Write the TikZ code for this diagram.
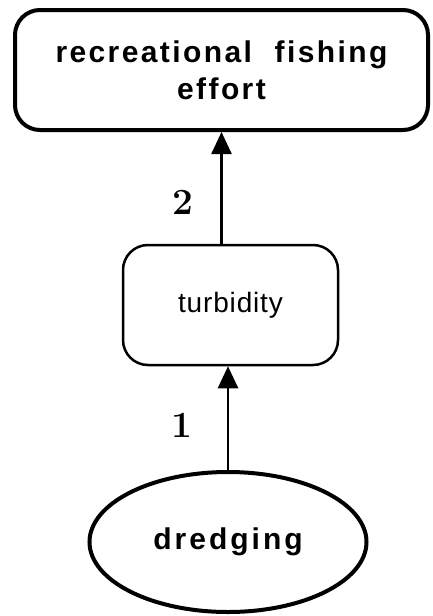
\documentclass[tikz,border=0pt]{standalone}
\usepackage{fontspec}
\usetikzlibrary{arrows.meta,shapes.geometric}
\newfontfamily\boxfont[LetterSpace=8]{Liberation Sans}
\newfontfamily\ovalfont[LetterSpace=10]{Liberation Sans}
\newfontfamily\plainfont[LetterSpace=3]{Liberation Sans}
\begin{document}
\begin{tikzpicture}[x=1pt,y=-1pt,
  bigbox/.style={draw,line width=4pt,rounded corners=25pt,inner sep=0pt,
    minimum width=413pt,minimum height=120pt,align=center,
    font=\boxfont\bfseries\fontsize{30}{37}\selectfont},
  smallbox/.style={draw,line width=2.5pt,rounded corners=25pt,inner sep=0pt,
    minimum width=215pt,minimum height=120pt,
    font=\plainfont\fontsize{28}{30}\selectfont},
  oval/.style={draw,ellipse,line width=4pt,inner sep=0pt,
    minimum width=277pt,minimum height=140pt,
    font=\ovalfont\bfseries\fontsize{30}{30}\selectfont},
  link/.style={line width=2.5pt,-{Triangle[width=20pt,length=22pt]}},
  num/.style={font=\bfseries\fontsize{37}{40}\selectfont,inner sep=0pt}]
\useasboundingbox (0,0) rectangle (432,616);

% the three boxes
\node[bigbox] (effort) at (221.5,70) {recreational\hspace{0.4em} fishing\\effort};
\node[smallbox] (turb) at (230.5,305) {turbidity};
\node[oval] (dredge) at (228,542) {dredging};

% causal links
\draw[link] (dredge.north) -- (turb.south -| dredge.north);
\draw[link] (turb.north -| effort.south) -- (effort.south);

% link numbers
\node[num] (n1) at (182,425) {1};
\node[num] (n2) at (182.5,202.5) {2};
\end{tikzpicture}
\end{document}
